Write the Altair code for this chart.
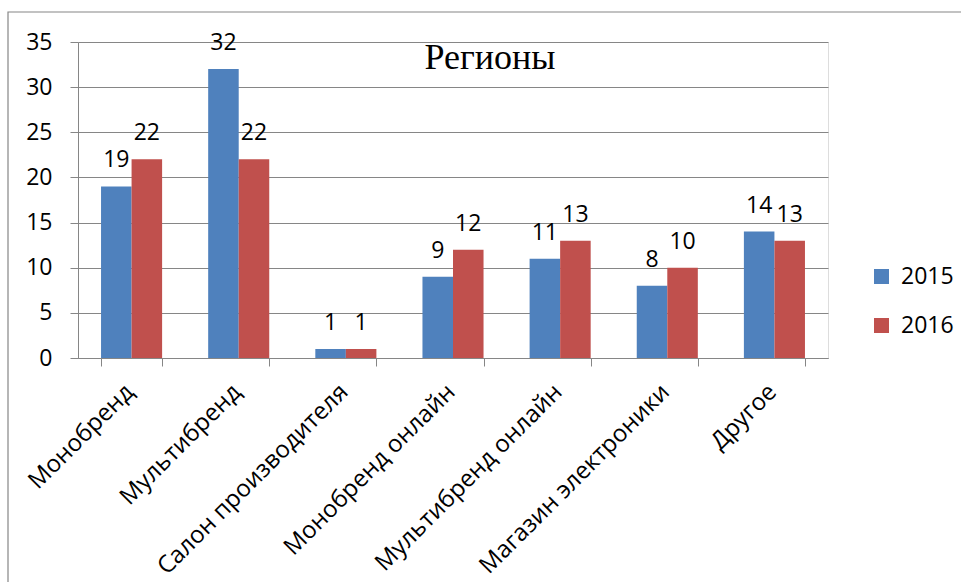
import altair as alt
import pandas as pd

categories = ["Монобренд", "Мультибренд", "Салон производителя", "Монобренд онлайн",
              "Мультибренд онлайн", "Магазин электроники", "Другое"]
years = ["2015", "2016"]
values_2015 = [19, 32, 1, 9, 11, 8, 14]
values_2016 = [22, 22, 1, 12, 13, 10, 13]
y_ticks = [0, 5, 10, 15, 20, 25, 30, 35]
colors = ["#4F81BD", "#C0504D"]

rows = []
for c, a, b in zip(categories, values_2015, values_2016):
    rows.append({"cat": c, "year": "2015", "value": a})
    rows.append({"cat": c, "year": "2016", "value": b})
df = pd.DataFrame(rows)

FONT = "Open Sans"
GRID = "#868686"

x_enc = alt.X("cat:N", sort=categories,
              scale=alt.Scale(paddingInner=0.43, paddingOuter=0.215),
              axis=alt.Axis(title=None, labelAngle=-45, labelAlign="right",
                            labelBaseline="middle", tickBand="extent",
                            labelFont=FONT, labelFontSize=24, labelColor="#000000",
                            labelPadding=22, labelOffset=-2,
                            domainColor=GRID, tickColor=GRID, tickSize=8,
                            grid=False, labelLimit=400))
y_enc = alt.Y("value:Q", scale=alt.Scale(domain=[0, 35], nice=False),
              axis=alt.Axis(title=None, values=y_ticks, labelFont=FONT,
                            labelFontSize=23, labelColor="#000000",
                            labelPadding=18, tickSize=8, tickColor=GRID,
                            domainColor=GRID, gridColor=GRID, gridWidth=1.2))
xo = alt.XOffset("year:N", sort=years)

frame = alt.Chart(alt.Data(values=[{"a": 1}])).mark_rect(
    fillOpacity=0, stroke=GRID, strokeWidth=1.2
).encode(x=alt.value(-70), x2=alt.value(980), y=alt.value(-30), y2=alt.value(700))

bars = alt.Chart(df).mark_bar().encode(
    x=x_enc, xOffset=xo, y=y_enc,
    color=alt.Color("year:N", sort=years,
                    scale=alt.Scale(domain=years, range=colors),
                    legend=alt.Legend(title=None, orient="none", legendX=792,
                                      legendY=223, symbolType="square",
                                      symbolSize=225, symbolStrokeWidth=0,
                                      labelFont=FONT, labelFontSize=23,
                                      labelColor="#000000", labelOffset=8,
                                      rowPadding=25, padding=0))
)

labels = alt.Chart(df).mark_text(
    font=FONT, fontSize=23, color="#000000", baseline="alphabetic", dy=-19
).encode(x=alt.X("cat:N", sort=categories), xOffset=xo, y="value:Q",
         text="value:Q")

chart = alt.layer(frame, bars, labels).properties(
    width=750, height=316,
    padding={"left": 78, "top": 42, "right": 133, "bottom": 224},
    autosize=alt.AutoSizeParams(type="none"),
    title=alt.TitleParams("Регионы", font="Liberation Serif", fontSize=36,
                          fontWeight="normal", color="#000000", anchor="middle",
                          baseline="alphabetic", offset=0, dx=37, dy=94)
).configure_view(stroke=None).configure(background="white")

chart.save("out.html", embed_options={"renderer": "svg", "actions": False})
